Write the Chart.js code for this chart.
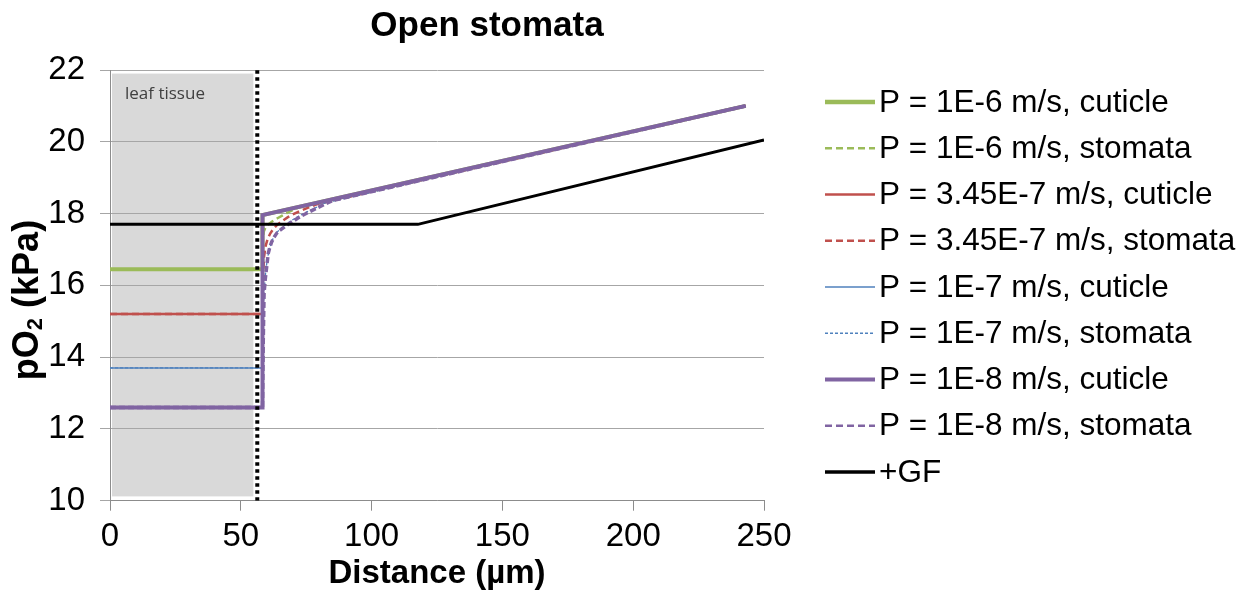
<!DOCTYPE html>
<html>
<head>
<meta charset="utf-8">
<title>Open stomata</title>
<script src="https://cdn.jsdelivr.net/npm/chart.js@4/dist/chart.umd.min.js"></script>
<style>
  html, body { margin: 0; padding: 0; background: #ffffff; }
  canvas { display: block; }
</style>
</head>
<body>
<canvas id="chart" width="1251" height="598"></canvas>
<script>
// Axis ranges and ticks
const xTickValues = [0, 50, 100, 150, 200, 250];
const yTickValues = [10, 12, 14, 16, 18, 20, 22];

// Leaf tissue zone and its outer boundary (µm)
const tissueZone = [0, 54.8];
const boundaryX = [56.3, 56.3];
const boundaryY = [10, 22];

// Cuticle profiles: flat inside the leaf, then a linear gradient in the air layer
const cuticleX = [0, 58.3, 58.3, 243];
const cuticle1e6 = [16.45, 16.45, 17.96, 21.0];
const cuticle345e7 = [15.2, 15.2, 17.96, 21.0];
const cuticle1e7 = [13.7, 13.7, 17.96, 21.0];
const cuticle1e8 = [12.6, 12.6, 17.96, 21.0];

// Stomata profiles: same inner level, curved recovery outside the leaf
const stomata1e6X = [0, 58.3, 58.4, 58.8, 59.5, 60.5, 62, 64, 66, 68, 70, 72, 243];
const stomata1e6Y = [16.45, 16.45, 17.3, 17.5, 17.62, 17.7, 17.78, 17.87, 17.95, 18.03, 18.1, 18.17, 21.0];
const stomata345e7X = [0, 58.3, 58.5, 58.9, 59.5, 60.3, 61.3, 62.5, 64, 66, 68, 70.5, 73, 76, 79, 243];
const stomata345e7Y = [15.2, 15.2, 16.3, 16.8, 17.1, 17.3, 17.45, 17.58, 17.69, 17.8, 17.9, 18.0, 18.08, 18.17, 18.26, 21.0];
const stomata1e7X = [0, 58.3, 58.6, 59, 59.6, 60.3, 61.2, 62.3, 63.7, 65.5, 68, 71, 74.5, 78, 82, 243];
const stomata1e7Y = [13.7, 13.7, 15.3, 15.9, 16.45, 16.8, 17.08, 17.3, 17.47, 17.6, 17.74, 17.88, 18.02, 18.14, 18.29, 21.0];
const stomata1e8X = [0, 58.3, 58.6, 58.9, 59.4, 59.9, 60.5, 61.1, 61.8, 62.7, 63.7, 64.9, 66.2, 68, 70.1, 71.7, 73.3, 76.5, 79, 82, 85, 243];
const stomata1e8Y = [12.6, 12.6, 14.5, 15.78, 16.2, 16.52, 16.89, 17.06, 17.21, 17.34, 17.45, 17.53, 17.6, 17.7, 17.79, 17.87, 17.94, 18.06, 18.15, 18.26, 18.36, 21.0];

// +GF profile
const gfX = [0, 117.7, 250];
const gfY = [17.7, 17.7, 20.05];

const seriesLabels = [
  'P = 1E-6 m/s, cuticle',
  'P = 1E-6 m/s, stomata',
  'P = 3.45E-7 m/s, cuticle',
  'P = 3.45E-7 m/s, stomata',
  'P = 1E-7 m/s, cuticle',
  'P = 1E-7 m/s, stomata',
  'P = 1E-8 m/s, cuticle',
  'P = 1E-8 m/s, stomata',
  '+GF'
];

const GREEN = '#9BBB59', RED = '#C0504D', BLUE = '#4F81BD', PURPLE = '#8064A2';
const FONT = '"Liberation Sans", Arial, sans-serif';

function pts(xs, ys) { return xs.map((x, i) => ({ x: x, y: ys[i] })); }

function series(label, xs, ys, color, width, dash, order, legendWidth, legendDash) {
  return {
    label: label,
    data: pts(xs, ys),
    borderColor: color,
    backgroundColor: color,
    borderWidth: width,
    borderDash: dash,
    pointRadius: 0,
    fill: false,
    order: order,
    tension: 0,
    legendWidth: legendWidth,
    legendDash: legendDash
  };
}

const datasets = [
  series(seriesLabels[0], cuticleX, cuticle1e6, GREEN, 4, [], 9, 4.5, []),
  series(seriesLabels[1], stomata1e6X, stomata1e6Y, GREEN, 2.5, [7, 4], 8, 2.5, [7, 4]),
  series(seriesLabels[2], cuticleX, cuticle345e7, RED, 2.5, [], 7, 2.5, []),
  series(seriesLabels[3], stomata345e7X, stomata345e7Y, RED, 2.5, [7, 4], 6, 2.5, [7, 4]),
  series(seriesLabels[4], cuticleX, cuticle1e7, BLUE, 1.5, [], 5, 1.5, []),
  series(seriesLabels[5], stomata1e7X, stomata1e7Y, BLUE, 1.3, [3, 2], 4, 1.3, [3, 2]),
  series(seriesLabels[6], cuticleX, cuticle1e8, PURPLE, 4, [], 3, 4, []),
  series(seriesLabels[7], stomata1e8X, stomata1e8Y, PURPLE, 3.5, [6, 3], 2, 2.5, [7, 4]),
  series(seriesLabels[8], gfX, gfY, '#000000', 3, [], 1, 3.5, []),
  {
    label: 'boundary',
    data: pts(boundaryX, boundaryY),
    borderColor: '#000000',
    borderWidth: 4,
    borderDash: [3.5, 3.5],
    pointRadius: 0,
    fill: false,
    order: 0,
    noLegend: true
  }
];

// Shaded leaf-tissue zone with its caption, drawn beneath the grid
const tissuePlugin = {
  id: 'tissueZone',
  beforeDraw(chart) {
    const { ctx, scales: { x, y } } = chart;
    const left = x.getPixelForValue(tissueZone[0]) + 2;
    const right = x.getPixelForValue(tissueZone[1]);
    const top = y.getPixelForValue(21.9);
    const bottom = y.getPixelForValue(10.12);
    ctx.save();
    ctx.fillStyle = '#d9d9d9';
    ctx.fillRect(left, top, right - left, bottom - top);
    ctx.fillStyle = '#404040';
    ctx.font = '17px "Open Sans", "Noto Sans", sans-serif';
    ctx.textAlign = 'left';
    ctx.textBaseline = 'middle';
    ctx.fillText('leaf tissue', left + 13, top + 21);
    ctx.restore();
  }
};

// Title, y-axis title with subscript, and the legend to the right
const decorPlugin = {
  id: 'decor',
  afterDraw(chart) {
    const { ctx } = chart;
    ctx.save();
    ctx.fillStyle = '#000000';
    ctx.font = 'bold 35px ' + FONT;
    ctx.textAlign = 'center';
    ctx.textBaseline = 'middle';
    ctx.fillText('Open stomata', 487, 26);

    // y-axis title: pO2 (kPa)
    ctx.translate(28, 300);
    ctx.rotate(-Math.PI / 2);
    const big = 'bold 36px ' + FONT, small = 'bold 22px ' + FONT;
    ctx.font = big;
    const w1 = ctx.measureText('pO').width;
    const w3 = ctx.measureText(' (kPa)').width;
    ctx.font = small;
    const w2 = ctx.measureText('2').width;
    let xx = -(w1 + w2 + w3) / 2;
    ctx.textAlign = 'left';
    ctx.textBaseline = 'middle';
    ctx.font = big;
    ctx.fillText('pO', xx, 0);
    xx += w1;
    ctx.font = small;
    ctx.fillText('2', xx, 8);
    xx += w2;
    ctx.font = big;
    ctx.fillText(' (kPa)', xx, 0);
    ctx.restore();

    // Legend
    ctx.save();
    const items = chart.data.datasets.filter(d => !d.noLegend);
    const x0 = 825, x1 = 875, textX = 879, y0 = 102, step = 46.25;
    ctx.font = '31.5px ' + FONT;
    ctx.textAlign = 'left';
    ctx.textBaseline = 'middle';
    items.forEach((d, i) => {
      const yy = y0 + i * step;
      ctx.strokeStyle = d.borderColor;
      ctx.lineWidth = d.legendWidth;
      ctx.setLineDash(d.legendDash);
      ctx.beginPath();
      ctx.moveTo(x0, yy);
      ctx.lineTo(x1, yy);
      ctx.stroke();
      ctx.setLineDash([]);
      ctx.fillStyle = '#000000';
      ctx.fillText(d.label, textX, yy + 1);
    });
    ctx.restore();
  }
};

new Chart(document.getElementById('chart'), {
  type: 'line',
  data: { datasets: datasets },
  plugins: [tissuePlugin, decorPlugin],
  options: {
    responsive: false,
    animation: false,
    devicePixelRatio: 1,
    layout: { padding: { top: 70, right: 487, left: 0, bottom: 0 } },
    plugins: { legend: { display: false }, title: { display: false }, tooltip: { enabled: false } },
    elements: { line: { borderCapStyle: 'butt', borderJoinStyle: 'miter' } },
    scales: {
      x: {
        type: 'linear',
        min: xTickValues[0],
        max: xTickValues[xTickValues.length - 1],
        afterBuildTicks: (s) => { s.ticks = xTickValues.map(v => ({ value: v })); },
        afterFit: (s) => { s.height = 97.3; },
        grid: { drawOnChartArea: false, drawTicks: true, tickLength: 10, color: '#8c8c8c', lineWidth: 1 },
        border: { display: true, color: '#8c8c8c', width: 1 },
        ticks: { color: '#000000', font: { family: FONT, size: 33 }, padding: 6, maxRotation: 0 },
        title: {
          display: true,
          text: 'Distance (µm)',
          color: '#000000',
          font: { family: FONT, size: 33, weight: 'bold' },
          padding: { top: 0, bottom: 4 }
        }
      },
      y: {
        type: 'linear',
        min: yTickValues[0],
        max: yTickValues[yTickValues.length - 1],
        afterBuildTicks: (s) => { s.ticks = yTickValues.map(v => ({ value: v })); },
        afterFit: (s) => { s.width = 110; },
        grid: { drawOnChartArea: true, drawTicks: true, tickLength: 10, color: '#a6a6a6', lineWidth: 1 },
        border: { display: true, color: '#8c8c8c', width: 1 },
        ticks: { color: '#000000', font: { family: FONT, size: 33 }, padding: 15 }
      }
    }
  }
});
</script>
</body>
</html>
